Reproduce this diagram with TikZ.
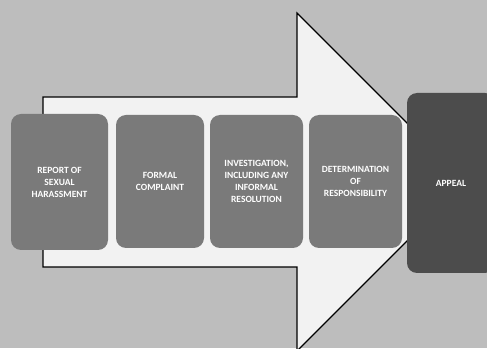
\documentclass[tikz,border=0pt]{standalone}
\usepackage{fontspec}
\setmainfont{Carlito}
\begin{document}
\begin{tikzpicture}[x=1pt,y=1pt,
  stepbox/.style={draw=none,fill=black!52,rounded corners=10pt,inner sep=2pt,
    align=center,text=white,font=\bfseries\fontsize{9.5}{12}\selectfont,minimum width=#1},
  appealbox/.style={stepbox=88pt,fill=black!70}]
\useasboundingbox (0,0) rectangle (487,348);
\fill[black!26] (0,0) rectangle (487,348);
\coordinate (a1) at (43,251);
\coordinate (a2) at (297,251);
\coordinate (a3) at (297,335);
\coordinate (a4) at (466,166);
\coordinate (a5) at (297,-3);
\coordinate (a6) at (297,81);
\coordinate (a7) at (43,81);
\draw[line width=1.1pt,fill=black!5] (a1) -- (a2) -- (a3) -- (a4) -- (a5) -- (a6) -- (a7) -- cycle;
\node[stepbox=97pt,minimum height=136pt] (b1) at (59.5,166) {REPORT OF\\SEXUAL\\HARASSMENT};
\node[stepbox=88pt,minimum height=133pt] (b2) at (160,166.5) {FORMAL\\COMPLAINT};
\node[stepbox=93pt,minimum height=133pt] (b3) at (256.5,166.5) {INVESTIGATION,\\INCLUDING ANY\\INFORMAL\\RESOLUTION};
\node[stepbox=93pt,minimum height=133pt] (b4) at (355.5,166.5) {DETERMINATION\\OF\\RESPONSIBILITY};
\node[appealbox,minimum height=180pt] (b5) at (451,165) {APPEAL};
\end{tikzpicture}
\end{document}
